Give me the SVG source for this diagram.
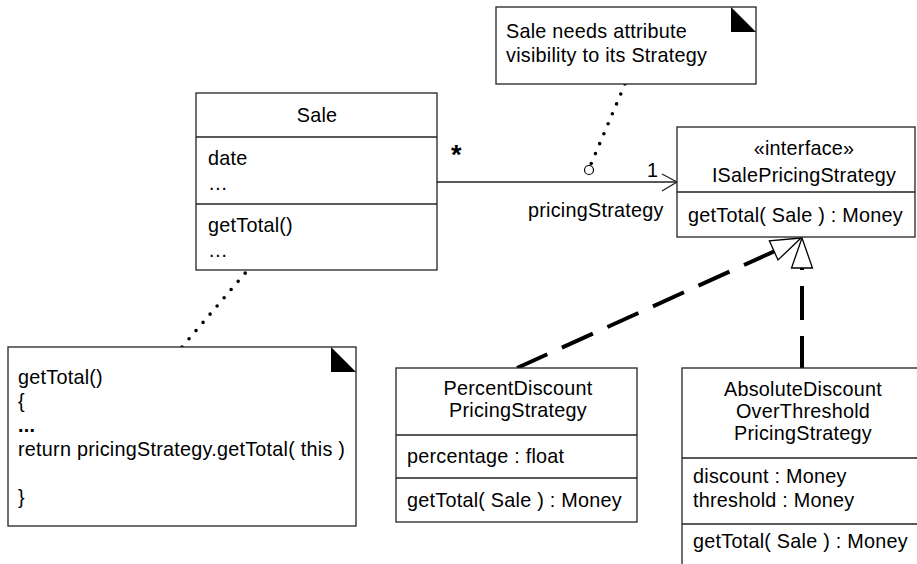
<svg xmlns="http://www.w3.org/2000/svg" width="917" height="564" viewBox="0 0 917 564">
<style>
text{font-family:"Liberation Sans",Arial,sans-serif;font-size:19.8px;letter-spacing:0.25px;fill:#000}
.c{text-anchor:middle}
.box{fill:#fff;stroke:#222;stroke-width:1.3}
.ln{stroke:#222;stroke-width:1.3;fill:none}
.dot{stroke:#000;stroke-width:3.6;stroke-linecap:round;stroke-dasharray:0 10.8;fill:none}
.dash{stroke:#000;stroke-width:4;stroke-dasharray:34 16;fill:none}
.tri{fill:#fff;stroke:#000;stroke-width:1.3}
</style>
<rect width="917" height="564" fill="#fff"/>
<g id="connectors">
  <line class="ln" x1="437" y1="182" x2="677" y2="182"/>
  <polyline class="ln" points="662,174 677,182 662,191"/>
  <text x="451" y="164" style="font-weight:bold;font-size:27px">*</text>
  <text x="647" y="177">1</text>
  <text x="528" y="217">pricingStrategy</text>
  <path class="dot" d="M625,84 L591,164"/>
  <circle cx="589" cy="170" r="4.5" fill="#fff" stroke="#000" stroke-width="1.2"/>
  <path class="dot" d="M182,347 L259,257"/>
  <circle cx="267" cy="248" r="4.5" fill="#fff" stroke="#000" stroke-width="1.2"/>
  <path class="dash" d="M775,251 L517,368"/>
  <polygon class="tri" points="801,238 769.4,240.8 778,260"/>
  <path class="dash" d="M802,370 L802,268"/>
  <polygon class="tri" points="802,238 791.5,268 812.5,268"/>
</g>
<g id="sale">
  <rect class="box" x="196" y="93" width="241" height="177"/>
  <line class="ln" x1="196" y1="137" x2="437" y2="137"/>
  <line class="ln" x1="196" y1="204" x2="437" y2="204"/>
  <text class="c" x="317" y="122">Sale</text>
  <text x="208" y="165">date</text>
  <text x="208" y="190">…</text>
  <text x="208" y="232">getTotal()</text>
  <text x="208" y="257">…</text>
</g>
<g id="note-visibility">
  <rect class="box" x="496" y="7" width="260" height="77"/>
  <polygon points="731,7 731,32 756,32" fill="#000"/>
  <text x="506" y="38">Sale needs attribute</text>
  <text x="506" y="62">visibility to its Strategy</text>
</g>
<g id="note-gettotal">
  <rect class="box" x="8" y="347" width="348" height="179"/>
  <polygon points="331,347 331,372 356,372" fill="#000"/>
  <text x="18" y="384">getTotal()</text>
  <text x="18" y="408">{</text>
  <text x="18" y="432" style="font-weight:bold">...</text>
  <text x="18" y="456">return pricingStrategy.getTotal( this )</text>
  <text x="18" y="504">}</text>
</g>
<g id="isalepricingstrategy">
  <rect class="box" x="677" y="127" width="238" height="110"/>
  <line class="ln" x1="677" y1="192" x2="915" y2="192"/>
  <text class="c" x="804" y="155">«interface»</text>
  <text class="c" x="804" y="182">ISalePricingStrategy</text>
  <text x="688" y="222">getTotal( Sale ) : Money</text>
</g>
<g id="percentdiscount">
  <rect class="box" x="396" y="368" width="241" height="154"/>
  <line class="ln" x1="396" y1="435" x2="637" y2="435"/>
  <line class="ln" x1="396" y1="478" x2="637" y2="478"/>
  <text class="c" x="518" y="395">PercentDiscount</text>
  <text class="c" x="518" y="417">PricingStrategy</text>
  <text x="407" y="463">percentage : float</text>
  <text x="407" y="507">getTotal( Sale ) : Money</text>
</g>
<g id="absolutediscount">
  <rect class="box" x="682" y="368" width="250" height="210"/>
  <line class="ln" x1="682" y1="458" x2="932" y2="458"/>
  <line class="ln" x1="682" y1="524" x2="932" y2="524"/>
  <text class="c" x="803" y="396">AbsoluteDiscount</text>
  <text class="c" x="803" y="418">OverThreshold</text>
  <text class="c" x="803" y="440">PricingStrategy</text>
  <text x="693" y="483">discount : Money</text>
  <text x="693" y="507">threshold : Money</text>
  <text x="693" y="548">getTotal( Sale ) : Money</text>
</g>
</svg>
